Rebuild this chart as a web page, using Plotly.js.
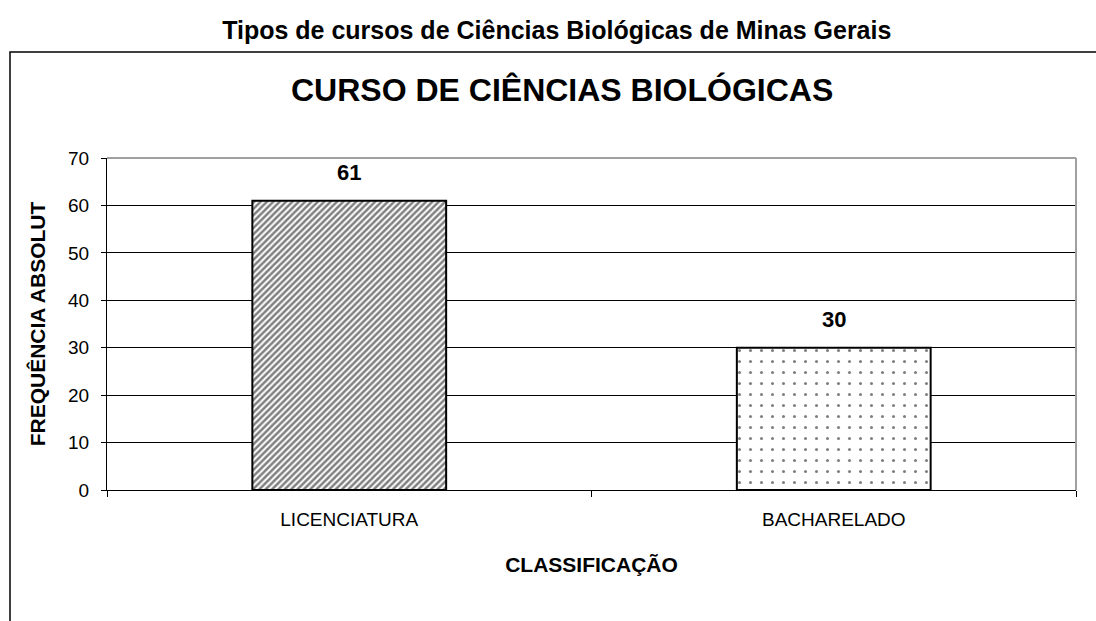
<!DOCTYPE html>
<html>
<head>
<meta charset="utf-8">
<script src="https://cdn.plot.ly/plotly-3.0.1.min.js"></script>
<style>html,body{margin:0;padding:0;background:#fff;}#chart{width:1096px;height:621px;}</style>
</head>
<body>
<div id="chart"></div>
<script>
var categories = ["LICENCIATURA", "BACHARELADO"];
var values = [61, 30];
var patternShapes = ["/", "."];
var yTicks = [0, 10, 20, 30, 40, 50, 60, 70];
var pageTitle = "Tipos de cursos de Ciências Biológicas de Minas Gerais";
var chartTitle = "CURSO DE CIÊNCIAS BIOLÓGICAS";
var xTitle = "CLASSIFICAÇÃO";
var yTitle = "FREQUÊNCIA ABSOLUT";

var font = "Liberation Sans, Arial, sans-serif";

var trace = {
  type: "bar",
  x: categories,
  y: values,
  width: 0.4,
  hoverinfo: "x+y",
  marker: {
    color: "#ffffff",
    line: {color: "#000000", width: 2},
    pattern: {
      shape: patternShapes,
      size: [4.5, 11],
      solidity: [0.55, 0.06],
      fgcolor: "#000000",
      bgcolor: "#ffffff",
      fillmode: "overlay"
    }
  }
};

var annotations = categories.map(function (c, i) {
  return {
    x: c, y: values[i], xref: "x", yref: "y",
    text: "<b>" + values[i] + "</b>",
    showarrow: false, yanchor: "bottom", yshift: 14,
    font: {family: font, size: 22, color: "#000"}
  };
});
annotations.push({
  xref: "paper", yref: "paper", x: 0.4695, y: 1.205,
  text: "<b>" + chartTitle + "</b>", showarrow: false,
  xanchor: "center", yanchor: "middle",
  font: {family: font, size: 32, color: "#000"}
});

var layout = {
  width: 1096,
  height: 621,
  margin: {l: 107, r: 20, t: 158, b: 131},
  paper_bgcolor: "#ffffff",
  plot_bgcolor: "#ffffff",
  showlegend: false,
  title: {
    text: "<b>" + pageTitle + "</b>",
    x: 0.508, xanchor: "center",
    y: 0.952, yanchor: "middle",
    font: {family: font, size: 25, color: "#000"}
  },
  xaxis: {
    type: "category",
    tickson: "boundaries",
    ticks: "outside",
    ticklen: 6,
    tickcolor: "#000",
    showline: true,
    linecolor: "#000",
    linewidth: 1,
    showgrid: false,
    ticklabelstandoff: 12,
    tickfont: {family: font, size: 19, color: "#000"},
    title: {text: "<b>" + xTitle + "</b>", font: {family: font, size: 21, color: "#000"}, standoff: 28}
  },
  yaxis: {
    range: [0, 70],
    tickvals: yTicks,
    ticktext: yTicks.map(String),
    ticks: "outside",
    ticklen: 5,
    tickcolor: "#000",
    showline: true,
    linecolor: "#000",
    linewidth: 1,
    showgrid: true,
    gridcolor: "#000",
    gridwidth: 1,
    zeroline: false,
    ticklabelstandoff: 8,
    tickfont: {family: font, size: 19, color: "#000"},
    title: {text: "<b>" + yTitle + "</b>", font: {family: font, size: 21, color: "#000"}, standoff: 16}
  },
  annotations: annotations,
  shapes: [
    {type: "line", xref: "paper", yref: "paper", x0: 0, x1: 1, y0: 1, y1: 1, line: {color: "#a0a0a0", width: 2}},
    {type: "line", xref: "paper", yref: "paper", x0: 1, x1: 1, y0: 0, y1: 1, line: {color: "#a0a0a0", width: 2}},
    {type: "rect", xref: "paper", yref: "paper", x0: -0.1001, x1: 1.2, y0: -0.5, y1: 1.319, line: {color: "#000", width: 1.5}, layer: "below"}
  ]
};

Plotly.newPlot("chart", [trace], layout, {displayModeBar: false, staticPlot: true});
</script>
</body>
</html>
